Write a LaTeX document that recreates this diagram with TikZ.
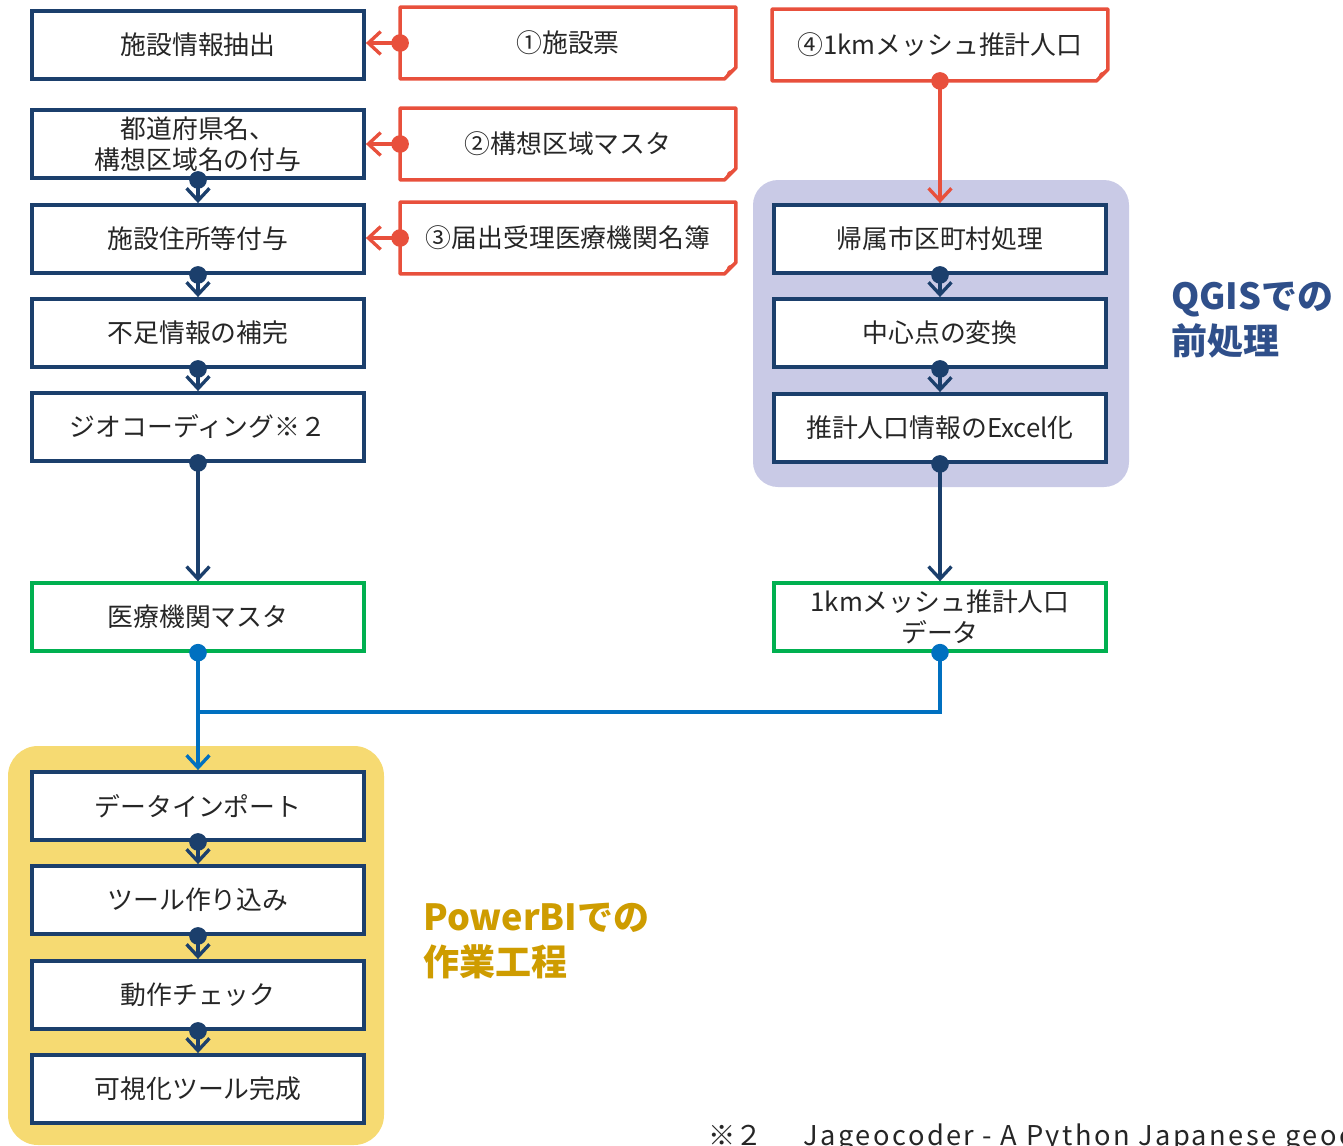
\documentclass[tikz,border=0pt]{standalone}
\usepackage{fontspec}
\setmainfont{Noto Sans CJK JP}
\usepackage{xcolor}
\usepackage{tikz}
\usetikzlibrary{arrows.meta}

\definecolor{boxnavy}{RGB}{27,63,108}
\definecolor{srcred}{RGB}{232,80,60}
\definecolor{datgreen}{RGB}{0,176,80}
\definecolor{joinblue}{RGB}{0,112,192}
\definecolor{qgisbg}{RGB}{201,202,230}
\definecolor{pbibg}{RGB}{246,218,114}
\definecolor{qgistext}{RGB}{47,79,138}
\definecolor{pbitext}{RGB}{206,156,0}
\definecolor{bodytext}{RGB}{38,38,38}

\tikzset{
  stepbox/.style={draw=boxnavy, line width=2.2pt, fill=white, text=bodytext,
    minimum width=6.64cm, minimum height=1.36cm, inner sep=0pt, align=center,
    font=\fontsize{14.7pt}{17.6pt}\selectfont},
  databox/.style={stepbox, draw=datgreen, line width=1.9pt},
  srcbox/.style={stepbox, draw=none, fill=none},
  srcline/.style={draw=srcred, line width=2pt, line join=round},
  flow/.style={draw=boxnavy, line width=1.9pt, shorten <=-5pt,
    {Circle[length=10pt]}-{Straight Barb[length=7pt,width=13pt,line width=1.9pt]}},
  srcflow/.style={flow, draw=srcred},
  joinflow/.style={flow, draw=joinblue},
  phase/.style={font=\fontsize{20.5pt}{25.6pt}\selectfont\bfseries, align=left, anchor=west}
}

\begin{document}
\begin{tikzpicture}[x=0.02cm, y=-0.02cm]
\useasboundingbox (0,0) rectangle (1343,1146);

% Background panels
\fill[qgisbg, rounded corners=0.5cm] (753,180) rectangle (1129,487);
\fill[pbibg, rounded corners=0.6cm] (8,746) rectangle (384,1145);

% Left column
\node[stepbox] (extract) at (198,45) {施設情報抽出};
\node[stepbox] (region) at (198,144) {都道府県名、\\構想区域名の付与};
\node[stepbox] (address) at (198,239) {施設住所等付与};
\node[stepbox] (complete) at (198,333) {不足情報の補完};
\node[stepbox] (geocode) at (198,427) {ジオコーディング※２};
\node[databox] (master) at (198,617) {医療機関マスタ};

% Source documents
\node[srcbox] (src1) at (568,43) {①施設票};
\node[srcbox] (src2) at (568,144) {②構想区域マスタ};
\node[srcbox] (src3) at (568,238) {③届出受理医療機関名簿};
\node[srcbox] (src4) at (940,45) {④1kmメッシュ推計人口};
\foreach \n in {src1,src2,src3,src4}{
  \draw[srcline] (\n.north west) -- (\n.north east) -- ([yshift=6.5pt]\n.south east)
    -- ([xshift=-6.5pt]\n.south east) -- (\n.south west) -- cycle;
  \fill[srcred] ([yshift=6.5pt]\n.south east) -- ([xshift=-6.5pt]\n.south east)
    -- ([shift={(-4.5pt,4.5pt)}]\n.south east) -- cycle;
}

% QGIS column
\node[stepbox] (assign) at (940,239) {帰属市区町村処理};
\node[stepbox] (center) at (940,333) {中心点の変換};
\node[stepbox] (excel) at (940,428) {推計人口情報のExcel化};
\node[databox] (mesh) at (940,617) {1kmメッシュ推計人口\\データ};

% PowerBI column
\node[stepbox] (import) at (198,806) {データインポート};
\node[stepbox] (build) at (198,900) {ツール作り込み};
\node[stepbox] (check) at (198,995) {動作チェック};
\node[stepbox] (done) at (198,1089) {可視化ツール完成};

% Phase labels
\node[phase, text=qgistext] (qgis) at (1165,320) {QGISでの\\前処理};
\node[phase, text=pbitext] (pbi) at (417,941) {PowerBIでの\\作業工程};

% Footnote
\node[anchor=base west, text=bodytext, font=\fontsize{15.5pt}{18pt}\selectfont, inner sep=0pt]
  (note) at (708,1145) {※２\hspace{1.5em}{\addfontfeature{LetterSpace=9}Jageocoder - A Python Japanese geocoder}};

% Flow arrows
\draw[flow] (region.south) -- (address.north);
\draw[flow] (address.south) -- (complete.north);
\draw[flow] (complete.south) -- (geocode.north);
\draw[flow] (geocode.south) -- (master.north);
\draw[flow] (assign.south) -- (center.north);
\draw[flow] (center.south) -- (excel.north);
\draw[flow] (excel.south) -- (mesh.north);
\draw[flow] (import.south) -- (build.north);
\draw[flow] (build.south) -- (check.north);
\draw[flow] (check.south) -- (done.north);

% Source arrows
\draw[srcflow] (src1.west) -- (src1.west -| extract.east);
\draw[srcflow] (src2.west) -- (src2.west -| region.east);
\draw[srcflow] (src3.west) -- (src3.west -| address.east);
\draw[srcflow] (src4.south) -- (assign.north);

% Merge into PowerBI
\coordinate (join) at (198,712);
\draw[joinflow] (master.south) -- (import.north);
\draw[joinflow, -] (mesh.south) |- (join);
\fill[joinblue] (mesh.south) circle (5pt);

\end{tikzpicture}
\end{document}
